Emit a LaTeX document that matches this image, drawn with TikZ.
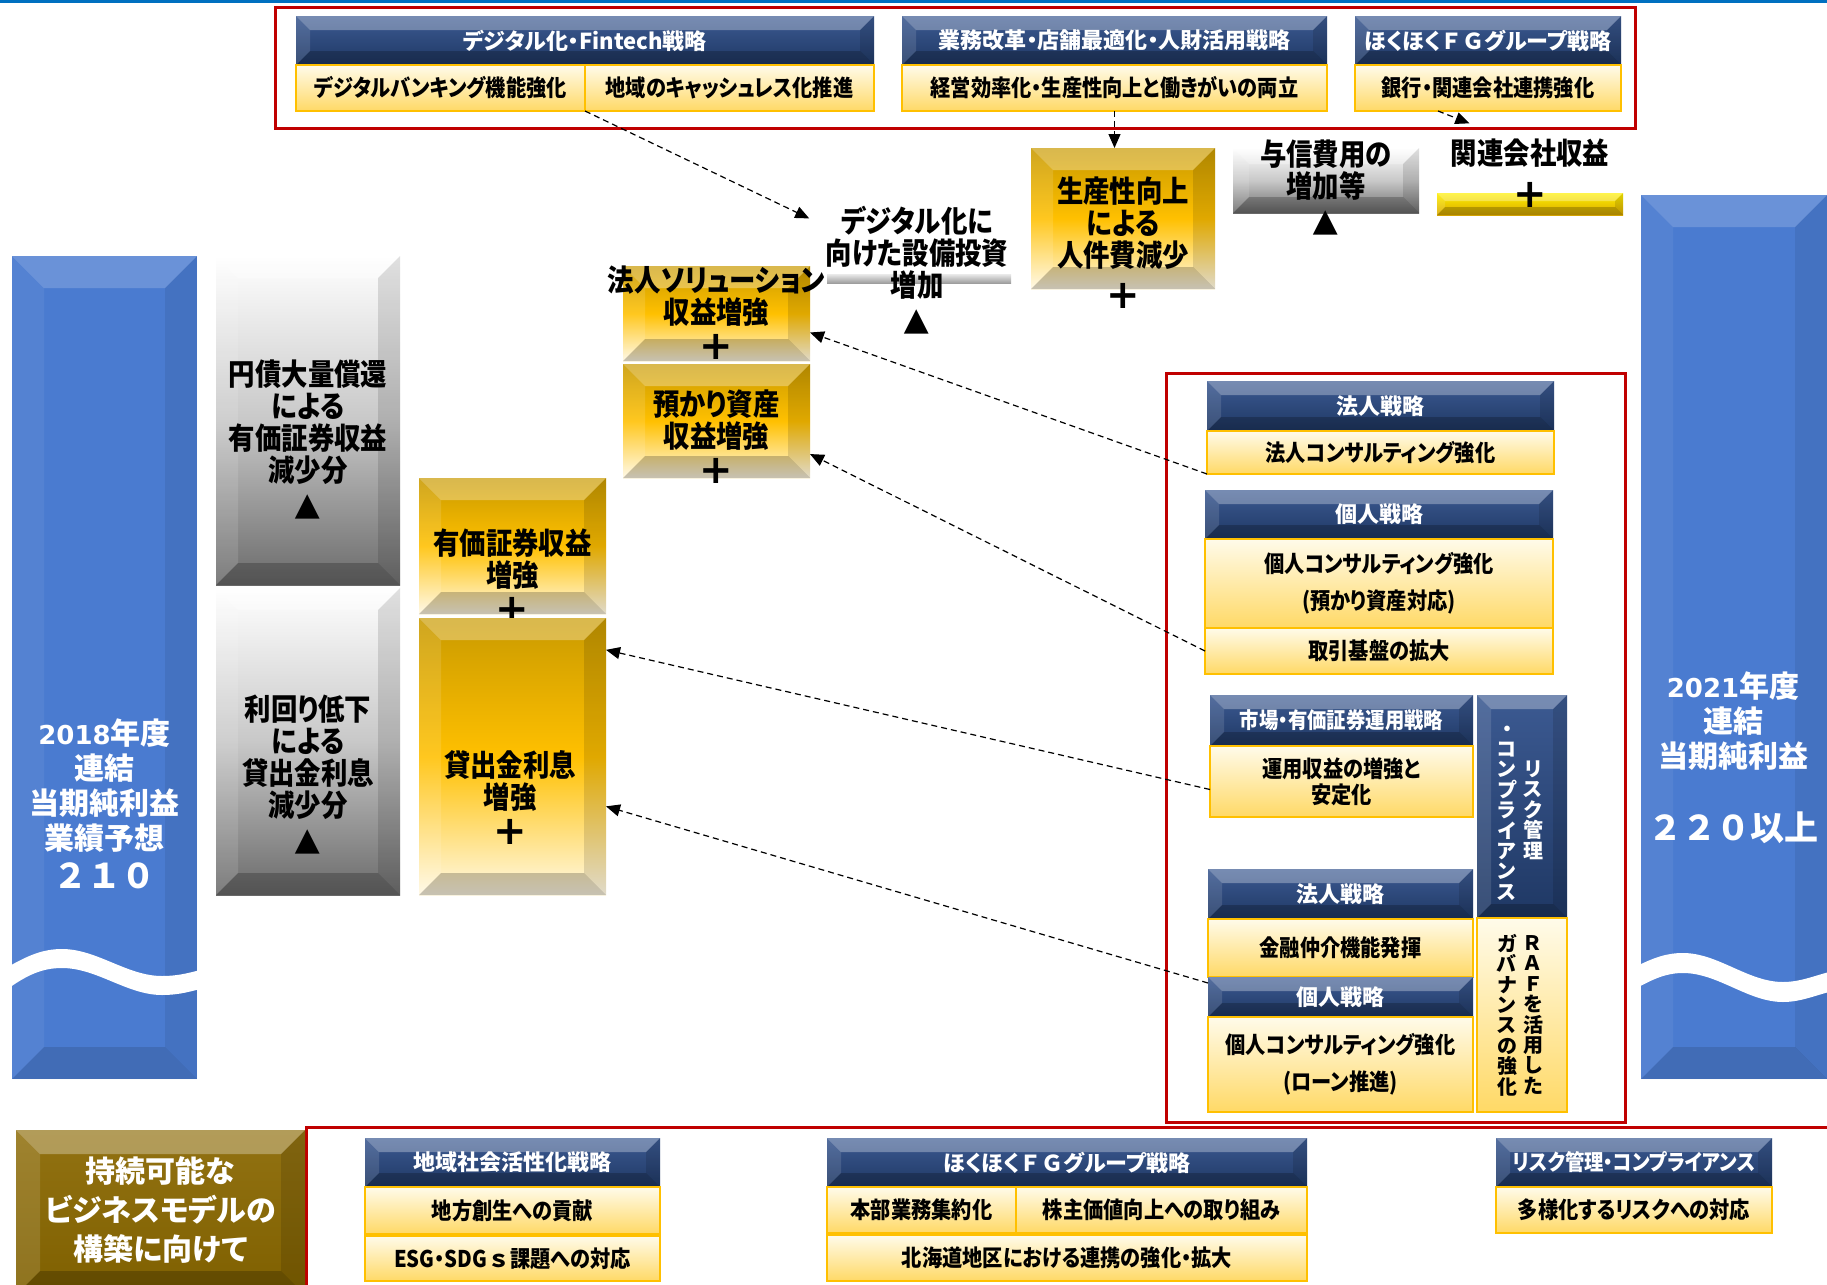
\documentclass[tikz,border=0pt]{standalone}
\usepackage{fontspec}
\setmainfont{Noto Sans CJK JP}[RawFeature=+palt]
\newfontfamily\jpn{Noto Sans CJK JP}[RawFeature=+palt]
\newfontfamily\jpw{Noto Sans CJK JP}
\newfontfamily\jpc{Noto Sans CJK JP}[RawFeature=+palt,FakeStretch=0.88]
\newfontfamily\dvs{DejaVu Sans}
\newcommand\plusmark{{\dvs\bfseries\fontsize{20}{16}\selectfont +}}
\usetikzlibrary{arrows.meta,calc}
\definecolor{topBlue}{HTML}{0070C0}
\definecolor{frameRed}{HTML}{C00000}
\definecolor{navyTop}{HTML}{3C5A92}
\definecolor{navyBot}{HTML}{1F3864}
\definecolor{creamTop}{HTML}{FFFBEA}
\definecolor{creamBot}{HTML}{FFD966}
\definecolor{goldLine}{HTML}{FFC000}
\definecolor{goldDk}{HTML}{C99A00}
\definecolor{gold}{HTML}{FFC000}
\definecolor{goldLt}{HTML}{FFF9E6}
\definecolor{grayMd}{HTML}{C8C8C8}
\definecolor{grayDk}{HTML}{6B6B6B}
\definecolor{barBlue}{HTML}{4A7BD0}
\definecolor{olive}{HTML}{7F6000}
\definecolor{oliveLt}{HTML}{927212}
\definecolor{yelTop}{HTML}{FFF000}
\definecolor{yelBot}{HTML}{D9A800}
\definecolor{grayBarLt}{HTML}{E6E6E6}
\definecolor{grayBarDk}{HTML}{9A9A9A}

\begin{document}
\begin{tikzpicture}[x=0.5pt,y=-0.5pt,
 bevel/.style={path picture={
   \coordinate (bvNW) at (path picture bounding box.north west);
   \coordinate (bvNE) at (path picture bounding box.north east);
   \coordinate (bvSW) at (path picture bounding box.south west);
   \coordinate (bvSE) at (path picture bounding box.south east);
   \fill[white,opacity=.3] (bvNW) -- (bvNE) -- ([shift={(-#1,-#1)}]bvNE) -- ([shift={(#1,-#1)}]bvNW) -- cycle;
   \fill[white,opacity=.12] (bvNW) -- ([shift={(#1,-#1)}]bvNW) -- ([shift={(#1,#1)}]bvSW) -- (bvSW) -- cycle;
   \fill[black,opacity=.12] (bvNE) -- ([shift={(-#1,-#1)}]bvNE) -- ([shift={(-#1,#1)}]bvSE) -- (bvSE) -- cycle;
   \fill[black,opacity=.22] (bvSW) -- ([shift={(#1,#1)}]bvSW) -- ([shift={(-#1,#1)}]bvSE) -- (bvSE) -- cycle;}},
 bevel/.default=8pt,
 softbevel/.style={path picture={
   \coordinate (bvNW) at (path picture bounding box.north west);
   \coordinate (bvNE) at (path picture bounding box.north east);
   \coordinate (bvSW) at (path picture bounding box.south west);
   \coordinate (bvSE) at (path picture bounding box.south east);
   \fill[white,opacity=.18] (bvNW) -- (bvNE) -- ([shift={(-#1,-#1)}]bvNE) -- ([shift={(#1,-#1)}]bvNW) -- cycle;
   \fill[white,opacity=.06] (bvNW) -- ([shift={(#1,-#1)}]bvNW) -- ([shift={(#1,#1)}]bvSW) -- (bvSW) -- cycle;
   \fill[black,opacity=.07] (bvNE) -- ([shift={(-#1,-#1)}]bvNE) -- ([shift={(-#1,#1)}]bvSE) -- (bvSE) -- cycle;
   \fill[black,opacity=.12] (bvSW) -- ([shift={(#1,#1)}]bvSW) -- ([shift={(-#1,#1)}]bvSE) -- (bvSE) -- cycle;}},
 wh/.style 2 args={minimum width=#1*0.5pt,minimum height=#2*0.5pt},
 headbox/.style={rectangle,inner sep=0pt,outer sep=0pt,top color=navyTop,bottom color=navyBot,bevel=7pt,
   text=white,font=\jpn\bfseries\fontsize{11}{13}\selectfont},
 subbox/.style={rectangle,inner sep=0pt,outer sep=0pt,draw=goldLine,line width=1.2pt,top color=creamTop,
   bottom color=creamBot,align=center,font=\jpc\bfseries\fontsize{11.5}{18.5}\selectfont},
 goldbox/.style={rectangle,inner sep=0pt,outer sep=0pt,top color=goldDk,bottom color=goldLt,middle color=gold,bevel=11pt},
 graybox/.style={rectangle,inner sep=0pt,outer sep=0pt,top color=white,bottom color=grayDk,middle color=grayMd,bevel=11pt},
 barbox/.style={rectangle,inner sep=0pt,outer sep=0pt,fill=barBlue,softbevel=16pt},
 bigtext/.style={align=center,inner sep=0pt,font=\jpc\bfseries\fontsize{15}{16}\selectfont},
 bartext/.style={align=center,inner sep=0pt,text=white,font=\jpn\bfseries\fontsize{15}{17.5}\selectfont},
 vtext/.style={align=center,inner sep=0pt,font=\jpn\bfseries\fontsize{10}{10.2}\selectfont},
 redframe/.style={draw=frameRed,line width=1.5pt},
 dasharrow/.style={-{Triangle[length=7pt,width=6pt]},dash pattern=on 3pt off 2pt,line width=0.6pt}]
\useasboundingbox (0,0) rectangle (1827,1285);
\fill[topBlue] (0,0) rectangle (1827,2.5);

% strategies at the top
\draw[redframe] (275,7) rectangle (1635,128);
\node[headbox,wh={578}{49}] (hdDigital) at (585,40.5) {デジタル化・Fintech戦略};
\node[subbox,wh={289}{46}] (subBanking) at (440.5,88) {デジタルバンキング機能強化};
\node[subbox,wh={289}{46}] (subCashless) at (729.5,88) {地域のキャッシュレス化推進};
\node[headbox,wh={425}{49}] (hdGyomu) at (1114.5,40.5) {業務改革・店舗最適化・人財活用戦略};
\node[subbox,wh={425}{46}] (subKeiei) at (1114.5,88) {経営効率化・生産性向上と働きがいの両立};
\node[headbox,wh={266}{49}] (hdGroup) at (1488,40.5) {ほくほく{\jpw ＦＧ}グループ戦略};
\node[subbox,wh={266}{46}] (subRenkei) at (1488,88) {銀行・関連会社連携強化};

% 2018 bar
\node[barbox,wh={185}{823}] (bar2018) at (104.5,667.5) {};
\begin{scope}[shift={(12,968)}]
\fill[white] (-6,0) .. controls (15,-12) and (30,-19) .. (50,-19) .. controls (85,-19) and (115,8) .. (150,8)
  .. controls (168,8) and (180,4) .. (192,1) -- (192,20) .. controls (180,23) and (168,27) .. (150,27)
  .. controls (115,27) and (85,0) .. (50,0) .. controls (30,0) and (15,7) .. (-6,22) -- cycle;
\end{scope}
\node[bartext] (txt2018) at (104.5,804) {{\dvs\bfseries\fontsize{13}{17.5}\selectfont 2018}年度\\連結\\当期純利益\\業績予想\\[2pt]{\jpw\fontsize{17}{20}\selectfont ２１０}};

% decreases and increases
\node[graybox,wh={184}{329}] (ensai) at (308,420.5) {};
\node[bigtext] (ensaiTxt) at (308,440) {円債大量償還\\による\\有価証券収益\\減少分\\[3pt]▲};
\node[graybox,wh={184}{307}] (rimawari) at (308,741.5) {};
\node[bigtext] (rimawariTxt) at (308,775) {利回り低下\\による\\貸出金利息\\減少分\\[3pt]▲};
\node[goldbox,wh={187}{136}] (yuka) at (512.5,546) {};
\node[bigtext] (yukaTxt) at (512.5,576) {有価証券収益\\増強\\[2pt]\plusmark};
\node[goldbox,wh={187}{277}] (kashi) at (512.5,756.5) {};
\node[bigtext] (kashiTxt) at (510,798) {貸出金利息\\増強\\[2pt]\plusmark};
\node[goldbox,wh={187}{95}] (houjinSol) at (716.5,313.5) {};
\node[bigtext] (houjinSolTxt) at (716.5,313) {法人ソリューション\\収益増強\\[2pt]\plusmark};
\node[goldbox,wh={187}{114}] (azukari) at (716.5,421) {};
\node[bigtext] (azukariTxt) at (716.5,437) {預かり資産\\収益増強\\[2pt]\plusmark};
\node[rectangle,inner sep=0pt,wh={184}{9},top color=grayBarLt,bottom color=grayBarDk] (digiBar) at (919,279) {};
\node[bigtext] (digiTxt) at (917,270) {デジタル化に\\向けた設備投資\\増加\\[3pt]▲};
\node[goldbox,wh={184}{141}] (seisan) at (1123,218.5) {};
\node[bigtext] (seisanTxt) at (1123,243) {生産性向上\\による\\人件費減少\\[5pt]\plusmark};
\node[graybox,wh={186}{65},bevel=8pt] (yoshin) at (1326,180.5) {};
\node[bigtext] (yoshinTxt) at (1326,188) {与信費用の\\増加等\\[3pt]▲};
\node[rectangle,inner sep=0pt,wh={186}{22},top color=yelTop,bottom color=yelBot,bevel=4pt] (kanrenBar) at (1530,204) {};
\node[bigtext] (kanrenTxt) at (1530,153) {関連会社収益};
\node[bigtext] (kanrenPlus) at (1530,195) {\plusmark};

% 2021 bar
\node[barbox,wh={186}{884}] (bar2021) at (1734,637) {};
\begin{scope}[shift={(1641,967)}]
\fill[white] (-6,0) .. controls (12,-9) and (25,-14) .. (42,-14) .. controls (77,-14) and (107,15) .. (142,15)
  .. controls (160,15) and (175,8) .. (192,4) -- (192,24) .. controls (175,28) and (160,35) .. (142,35)
  .. controls (107,35) and (77,6) .. (42,6) .. controls (25,6) and (12,12) .. (-6,22) -- cycle;
\end{scope}
\node[bartext] (txt2021) at (1733,758) {{\dvs\bfseries\fontsize{13}{17.5}\selectfont 2021}年度\\連結\\当期純利益\\[19pt]{\jpw\fontsize{17}{20}\selectfont ２２０以上}};

% strategies at the right
\draw[redframe] (1166,373) rectangle (1625,1122);
\node[headbox,wh={347}{50}] (hdHoujin) at (1380.5,406) {法人戦略};
\node[subbox,wh={347}{43}] (subHoujinCons) at (1380.5,452.5) {法人コンサルティング強化};
\node[headbox,wh={348}{49}] (hdKojin) at (1379,514.5) {個人戦略};
\node[subbox,wh={348}{89}] (subKojinCons) at (1379,583.5) {個人コンサルティング強化\\(預かり資産対応)};
\node[subbox,wh={348}{46}] (subTorihiki) at (1379,651) {取引基盤の拡大};
\node[headbox,wh={263}{51},font=\jpc\bfseries\fontsize{11}{13}\selectfont] (hdShijo) at (1341.5,720.5) {市場・有価証券運用戦略};
\node[subbox,wh={263}{71},font=\jpc\bfseries\fontsize{11.5}{13}\selectfont] (subUnyo) at (1341.5,781.5) {運用収益の増強と\\安定化};
\node[headbox,wh={90}{223}] (hdRisk) at (1522,806.5) {};
\node[vtext,text=white] (riskCol1) at (1533,810) {リ\\ス\\ク\\管\\理};
\node[vtext,text=white] (riskCol2) at (1507,813) {・\\コ\\ン\\プ\\ラ\\イ\\ア\\ン\\ス};
\node[subbox,wh={90}{194}] (subRaf) at (1522,1015) {};
\node[vtext] (rafCol1) at (1533,1015) {Ｒ\\Ａ\\Ｆ\\を\\活\\用\\し\\た};
\node[vtext] (rafCol2) at (1507,1015) {ガ\\バ\\ナ\\ン\\ス\\の\\強\\化};
\node[headbox,wh={265}{50}] (hdHoujin2) at (1340.5,894) {法人戦略};
\node[subbox,wh={265}{58}] (subKinyu) at (1340.5,948) {金融仲介機能発揮};
\node[headbox,wh={265}{40}] (hdKojin2) at (1340.5,997) {個人戦略};
\node[subbox,wh={265}{95}] (subLoan) at (1340.5,1064.5) {個人コンサルティング強化\\(ローン推進)};

% bottom row
\draw[redframe] (1827,1127) -- (306,1127) -- (306,1295);
\node[rectangle,inner sep=0pt,wh={289}{165},top color=oliveLt,bottom color=olive,bevel=12pt] (sustain) at (160.5,1212.5) {};
\node[align=center,inner sep=0pt,text=white,font=\jpn\bfseries\fontsize{15}{19.5}\selectfont] (sustainTxt) at (160.5,1210) {持続可能な\\ビジネスモデルの\\構築に向けて};
\node[headbox,wh={295}{49}] (hdChiiki) at (512.5,1162.5) {地域社会活性化戦略};
\node[subbox,wh={295}{47}] (subSousei) at (512.5,1210.5) {地方創生への貢献};
\node[subbox,wh={295}{45}] (subEsg) at (512.5,1258.5) {ESG・SDG{\jpw ｓ}課題への対応};
\node[headbox,wh={480}{49}] (hdGroup2) at (1067,1162.5) {ほくほく{\jpw ＦＧ}グループ戦略};
\node[subbox,wh={189}{46}] (subHonbu) at (921.5,1210) {本部業務集約化};
\node[subbox,wh={291}{46}] (subKabunushi) at (1161.5,1210) {株主価値向上への取り組み};
\node[subbox,wh={480}{46}] (subHokkaido) at (1067,1258) {北海道地区における連携の強化・拡大};
\node[headbox,wh={276}{49},font=\jpc\bfseries\fontsize{11}{13}\selectfont] (hdRisk2) at (1634,1162.5) {リスク管理・コンプライアンス};
\node[subbox,wh={276}{46}] (subTayou) at (1634,1210) {多様化するリスクへの対応};

% links
\draw[dasharrow] (subBanking.south east) -- ([xshift=-8pt,yshift=-6.5pt]digiTxt.north west);
\draw[dasharrow] (subKeiei.south) -- (subKeiei.south |- seisan.north);
\draw[dasharrow] ([xshift=-25pt]subRenkei.south) -- ([xshift=9.5pt,yshift=7.5pt]kanrenTxt.north west);
\draw[dasharrow] (subHoujinCons.south west) -- ($(houjinSol.north east)!.7!(houjinSol.south east)$);
\draw[dasharrow] (subTorihiki.west) -- ($(azukari.north east)!.79!(azukari.south east)$);
\draw[dasharrow] ([yshift=-4pt]subUnyo.west) -- ($(kashi.north east)!.115!(kashi.south east)$);
\draw[dasharrow] ([yshift=-3pt]hdKojin2.north west) -- ($(kashi.north east)!.68!(kashi.south east)$);
\end{tikzpicture}
\end{document}
